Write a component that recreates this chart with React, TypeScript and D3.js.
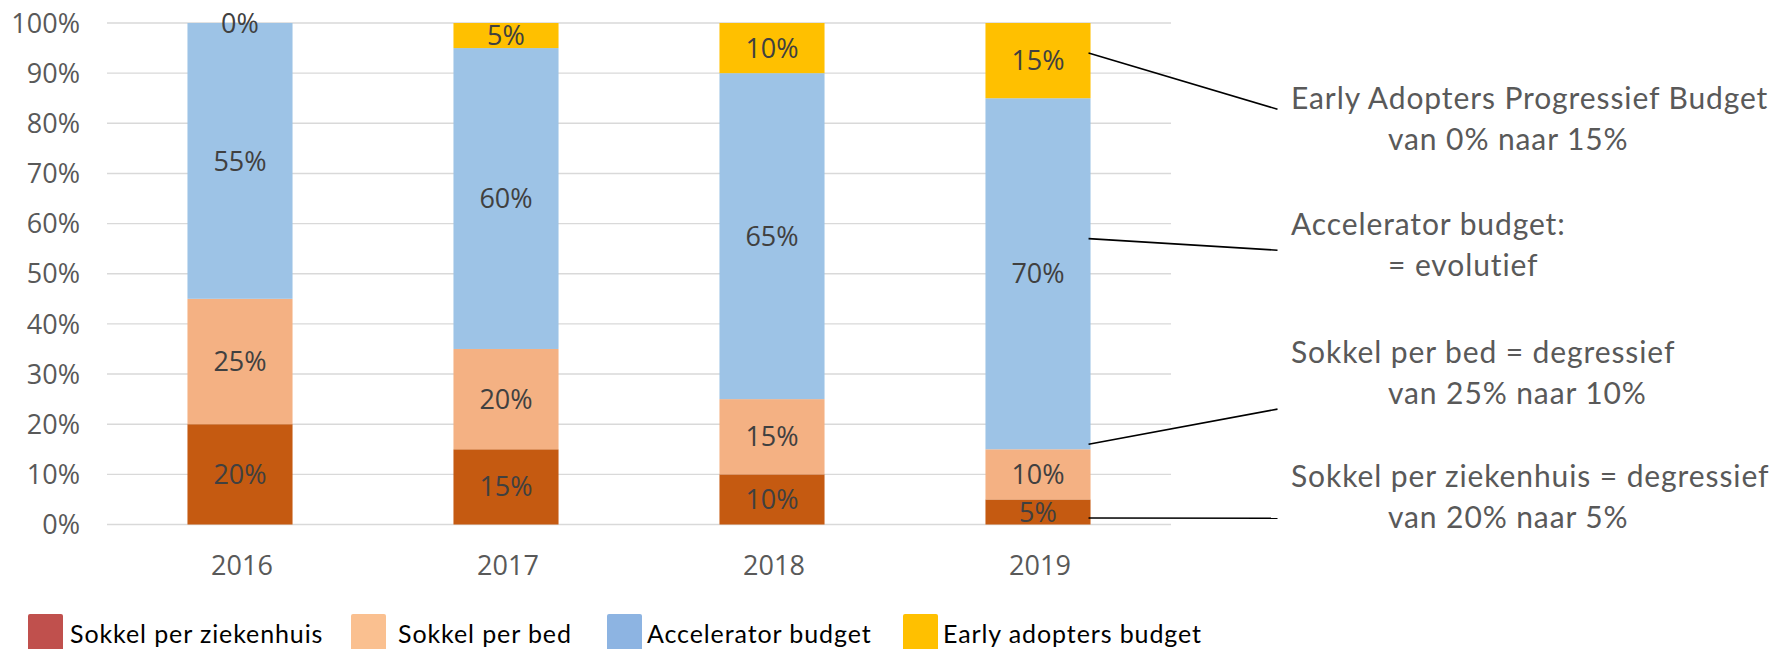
import React from 'react';
import * as d3 from 'd3';

// ---- data ----
const years = ['2016', '2017', '2018', '2019'];
const seriesKeys = ['ziekenhuis', 'bed', 'accelerator', 'early'];
const seriesNames = ['Sokkel per ziekenhuis', 'Sokkel per bed', 'Accelerator budget', 'Early adopters budget'];
const sokkelZiekenhuis = [0.2, 0.15, 0.1, 0.05];
const sokkelBed = [0.25, 0.2, 0.15, 0.1];
const accelerator = [0.55, 0.6, 0.65, 0.7];
const earlyAdopters = [0.0, 0.05, 0.1, 0.15];
const yTicks = [0, 0.1, 0.2, 0.3, 0.4, 0.5, 0.6, 0.7, 0.8, 0.9, 1.0];
const annotations = [
  ['Early Adopters Progressief Budget', 'van 0% naar 15%'],
  ['Accelerator budget:', '= evolutief'],
  ['Sokkel per bed = degressief', 'van 25% naar 10%'],
  ['Sokkel per ziekenhuis = degressief', 'van 20% naar 5%'],
];

// ---- styles ----
const barColors = ['#C55A11', '#F4B183', '#9DC3E6', '#FFC000'];
const legendColors = ['#C0504D', '#FAC090', '#8DB4E2', '#FFC000'];

const W = 1777;
const H = 649;
const plotLeft = 107;
const plotRight = 1171;
const plotTop = 23;
const plotBottom = 524.5;

// callout geometry (start value on 2019 bar, end value in y scale)
const calloutStart = [0.94, 0.57, 0.16, 0.013];
const calloutEnd = [0.828, 0.547, 0.23, 0.0124];
const annoBaselines = [
  [109.3, 150],
  [235, 276],
  [363.3, 404.3],
  [486.7, 528],
];

const legendSwatchX = [28, 351, 607, 903];
const legendTextX = [70, 398, 647, 943];

const tickFont = '"Open Sans", sans-serif';
const noteFont = 'Lato, "Noto Sans", sans-serif';

export default function App() {
  const rows = years.map((y, i) => ({
    year: y,
    ziekenhuis: sokkelZiekenhuis[i],
    bed: sokkelBed[i],
    accelerator: accelerator[i],
    early: earlyAdopters[i],
  }));
  const stack = d3.stack<any>().keys(seriesKeys);
  const layers = stack(rows as any);

  const x = d3
    .scaleBand<string>()
    .domain(years)
    .range([plotLeft, plotRight])
    .paddingInner(0.605)
    .paddingOuter(0.3025);
  const y = d3.scaleLinear().domain([0, 1]).range([plotBottom, plotTop]);
  const fmt = d3.format('.0%');
  const bw = x.bandwidth();
  const lastYear = years[years.length - 1];

  return (
    <div style={{ position: 'absolute', left: 0, top: 0 }}>
      <svg width={W} height={H} viewBox={`0 0 ${W} ${H}`} style={{ display: 'block', background: '#fff' }}>
        {/* gridlines */}
        {yTicks.map((t) => (
          <line key={t} x1={plotLeft} x2={plotRight} y1={y(t)} y2={y(t)} stroke="#D9D9D9" strokeWidth={1.4} />
        ))}
        {/* y labels */}
        {yTicks.map((t) => (
          <text
            key={'l' + t}
            x={80}
            y={y(t) + 9.6}
            textAnchor="end"
            fontFamily={tickFont}
            fontSize={27}
            fill="#595959"
          >
            {fmt(t)}
          </text>
        ))}
        {/* bars */}
        {layers.map((layer, li) => (
          <g key={layer.key}>
            {layer.map((d: any, i: number) => (
              <rect
                key={i}
                x={x(years[i])}
                y={y(d[1])}
                width={bw}
                height={Math.max(0, y(d[0]) - y(d[1]))}
                fill={barColors[li]}
              />
            ))}
          </g>
        ))}
        {/* data labels */}
        {layers.map((layer) => (
          <g key={'dl' + layer.key}>
            {layer.map((d: any, i: number) => (
              <text
                key={i}
                x={(x(years[i]) as number) + bw / 2}
                y={y((d[0] + d[1]) / 2) + 9.6}
                textAnchor="middle"
                fontFamily={tickFont}
                fontSize={27}
                fill="#404040"
              >
                {fmt(d[1] - d[0])}
              </text>
            ))}
          </g>
        ))}
        {/* x labels */}
        {years.map((yr) => (
          <text
            key={yr}
            x={(x(yr) as number) + bw / 2 + 2}
            y={575}
            textAnchor="middle"
            fontFamily={tickFont}
            fontSize={27}
            fill="#595959"
          >
            {yr}
          </text>
        ))}
        {/* callout lines */}
        {calloutStart.map((v, i) => (
          <line
            key={'c' + i}
            x1={(x(lastYear) as number) + bw - 2}
            y1={y(v)}
            x2={1277.5}
            y2={y(calloutEnd[i])}
            stroke="#000"
            strokeWidth={1.6}
          />
        ))}
        {/* annotations */}
        {annotations.map((lines, i) => (
          <g key={'a' + i} fontFamily={noteFont} fontSize={30} fill="#595959" letterSpacing={0.9}>
            <text x={1291} y={annoBaselines[i][0]}>{lines[0]}</text>
            <text x={1388} y={annoBaselines[i][1]}>{lines[1]}</text>
          </g>
        ))}
        {/* legend */}
        {seriesNames.map((name, i) => (
          <g key={'lg' + i}>
            <rect x={legendSwatchX[i]} y={614} width={35} height={45} rx={2} fill={legendColors[i]} />
            <text x={legendTextX[i]} y={643} fontFamily={noteFont} fontSize={25} letterSpacing={0.9} fill="#000">
              {name}
            </text>
          </g>
        ))}
      </svg>
    </div>
  );
}
